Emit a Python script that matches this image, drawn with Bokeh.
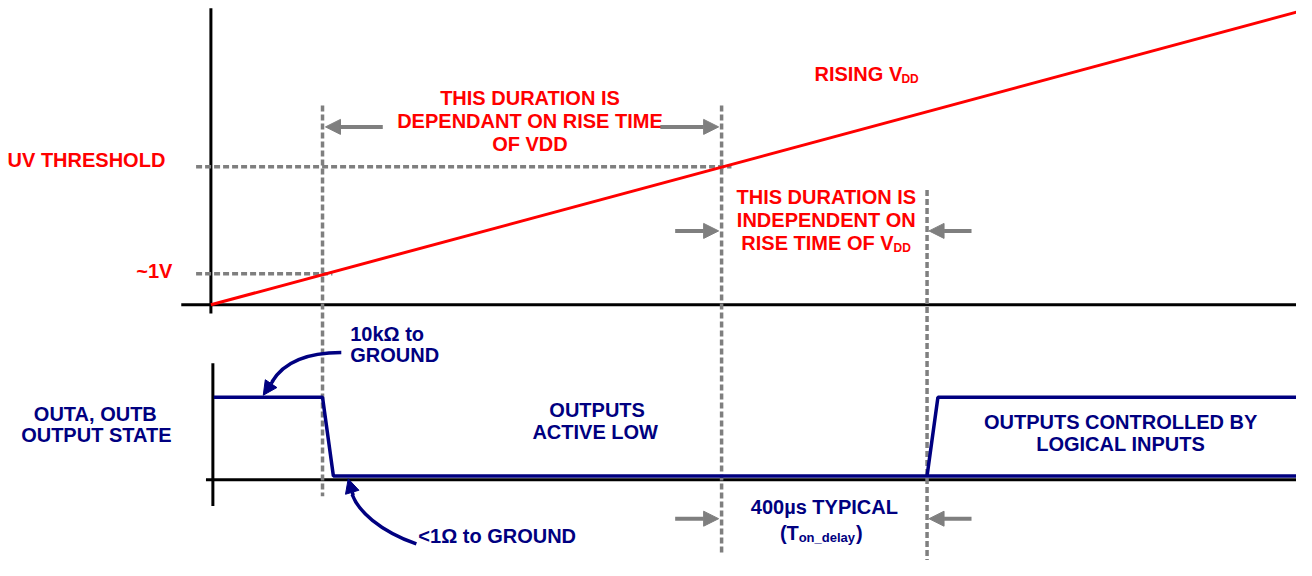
from bokeh.plotting import figure
from bokeh.models import Range1d, Arrow, NormalHead, ColumnDataSource
from bokeh.core.properties import value
from bokeh.embed import file_html
from bokeh.resources import INLINE

# ---------------- data (diagram units: x = time, y = screen level, y grows downwards) ----
t0 = 213                      # power-up start
t_end = 1312
event_t = [326, 730, 938]     # ~1V reached, UV threshold reached, outputs enabled
vdd_t = [213, 1312]
vdd_level = [313, 12]         # rising VDD ramp
thr_levels = [281, 171]       # ~1V, UV threshold
thr_ends = [336, 740]

out_a_t = [216, 326, 337, 1312]
out_a_lvl = [408, 408, 489, 489]
out_b_t = [938, 949, 1312]
out_b_lvl = [489, 408, 408]

RED = "#FF0000"
NAVY = "#000080"
GRAY = "#7F7F7F"
FONT = value("Liberation Sans")

p = figure(width=1296, height=560, output_backend="svg", toolbar_location=None,
           x_range=Range1d(0, 1312), y_range=Range1d(576, 0), min_border=0)
p.axis.visible = False
p.grid.visible = False
p.outline_line_color = None
p.background_fill_color = "white"
p.border_fill_color = "white"

# ---------------- axes of the diagram
p.segment(x0=[t0, 183, 215, 208], y0=[8, 313, 373, 493],
          x1=[t0, t_end, 215, t_end], y1=[322, 313, 520, 493],
          line_color="black", line_width=3)

# ---------------- dashed guide lines
p.segment(x0=[198, 198], y0=thr_levels, x1=thr_ends, y1=thr_levels,
          line_color=GRAY, line_width=3.5, line_dash="6 3")
p.segment(x0=event_t, y0=[108, 108, 195], x1=event_t, y1=[510, 570, 576],
          line_color=GRAY, line_width=3.5, line_dash="6 3")

# ---------------- rising VDD
p.line(vdd_t, vdd_level, line_color=RED, line_width=3)

# ---------------- output state
p.line(out_a_t, out_a_lvl, line_color=NAVY, line_width=3.5)
p.line(out_b_t, out_b_lvl, line_color=NAVY, line_width=3.5)

# ---------------- gray duration arrows
arr = ColumnDataSource(dict(
    xs=[387, 668, 683, 983, 683, 983],
    ys=[130, 130, 237, 237, 533, 533],
    xe=[329, 727, 727, 940, 727, 940],
    ye=[130, 130, 237, 237, 533, 533]))
p.add_layout(Arrow(end=NormalHead(size=15, fill_color=GRAY, line_color=GRAY),
                   x_start="xs", y_start="ys", x_end="xe", y_end="ye",
                   line_color=GRAY, line_width=4, source=arr))

# ---------------- blue curved pointers
p.bezier(x0=[345, 421], y0=[362, 559], x1=[275, 356], y1=[392, 508],
         cx0=[305, 383], cy0=[362, 545], cx1=[285, 362], cy1=[375, 525],
         line_color=NAVY, line_width=3.5)
tips = ColumnDataSource(dict(xs=[276, 357], ys=[391, 509], xe=[266, 352], ye=[406, 492]))
p.add_layout(Arrow(end=NormalHead(size=14, fill_color=NAVY, line_color=NAVY),
                   x_start="xs", y_start="ys", x_end="xe", y_end="ye",
                   line_color=NAVY, line_width=3.5, source=tips))

# ---------------- texts
def txt(x, y, t, color, size="20px", align="center"):
    p.text(x=x, y=y, text=t, text_color=color, text_font=FONT, text_font_style="bold",
           text_font_size=size, text_align=align, text_baseline="middle")

red_c_x = [536, 536, 536, 836, 836]
red_c_y = [100, 124, 148, 202, 226]
red_c_t = ["THIS DURATION IS", "DEPENDANT ON RISE TIME", "OF VDD",
           "THIS DURATION IS", "INDEPENDENT ON"]
txt(red_c_x, red_c_y, red_c_t, RED)
txt([87], [164], ["UV THRESHOLD"], RED)
txt([174], [278], ["~1V"], RED, align="right")
txt([824, 750], [76, 249], ["RISING V", "RISE TIME OF V"], RED, align="left")
txt([912, 904], [81, 255], ["DD", "DD"], RED, size="12px", align="left")

navy_c_x = [96, 97, 604, 602, 1134, 1134, 834]
navy_c_y = [425, 447, 421, 444, 434, 456, 521]
navy_c_t = ["OUTA, OUTB", "OUTPUT STATE", "OUTPUTS", "ACTIVE LOW",
            "OUTPUTS CONTROLLED BY", "LOGICAL INPUTS", "400µs TYPICAL"]
txt(navy_c_x, navy_c_y, navy_c_t, NAVY)
txt([354, 354, 423], [343, 365, 551], ["10kΩ to", "GROUND", "<1Ω to GROUND"], NAVY, align="left")
txt([789, 866], [548, 548], ["(T", ")"], NAVY, align="left")
txt([808], [552], ["on_delay"], NAVY, size="13px", align="left")

open("out.html", "w").write(file_html(p, INLINE))
